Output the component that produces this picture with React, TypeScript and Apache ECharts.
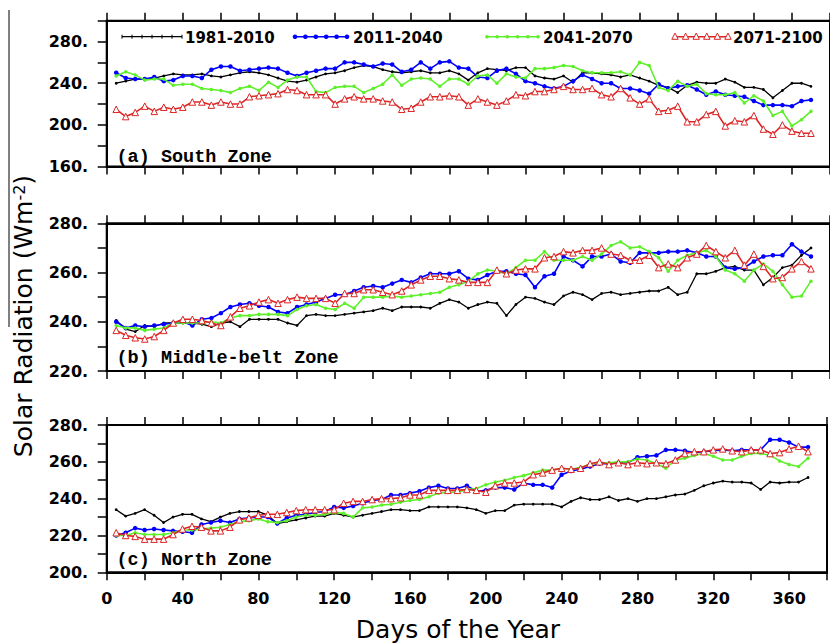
import React, { useEffect, useRef } from 'react';
import * as echarts from 'echarts';

// ---------------- data ----------------
const days = [
  5, 10, 15, 20, 25, 30, 35, 40, 45, 50, 55, 60, 65, 70, 75, 80, 85, 90, 95, 100,
  105, 110, 115, 120, 125, 130, 135, 140, 145, 150, 155, 160, 165, 170, 175, 180, 185, 190, 195, 200,
  205, 210, 215, 220, 225, 230, 235, 240, 245, 250, 255, 260, 265, 270, 275, 280, 285, 290, 295, 300,
  305, 310, 315, 320, 325, 330, 335, 340, 345, 350, 355, 360, 365, 370,
];

const seriesNames = ['1981-2010', '2011-2040', '2041-2070', '2071-2100'];
const panelTitles = ['(a) South Zone', '(b) Middle-belt Zone', '(c) North Zone'];
const xTickLabels = ['0', '40', '80', '120', '160', '200', '240', '280', '320', '360'];
const yTickLabelsA = ['160.', '200.', '240.', '280.'];
const yTickLabelsB = ['220.', '240.', '260.', '280.'];
const yTickLabelsC = ['200.', '220.', '240.', '260.', '280.'];
const xTitle = 'Days of the Year';

// (a) South Zone
const southBlack = [
  240, 242, 244, 244, 245, 247, 249, 248, 248, 249, 247, 246, 248, 250, 251, 250, 248, 245, 242, 241,
  243, 246, 249, 250, 252, 255, 257, 256, 253, 251, 250, 251,
  252, 250, 250, 252, 249, 243, 250, 254, 253, 252, 255, 255, 247, 245, 244, 247, 241, 250, 250, 249,
  248, 246, 248, 245, 242, 238, 236, 231, 238, 241, 240, 240, 244, 241, 236, 236, 234, 226, 233, 240,
  240, 237,
];
const southBlue = [
  250, 245, 244, 244, 246, 242, 243, 247, 247, 245, 253, 256, 256, 252, 253, 254, 255, 254, 250, 247,
  250, 252, 254, 254, 260, 260, 258, 256, 259, 258, 251, 253,
  260, 254, 260, 261, 255, 254, 246, 245, 252, 254, 249, 242, 240, 237, 235, 237, 242, 248, 244, 240,
  240, 235, 235, 233, 230, 239, 235, 237, 238, 234, 229, 232, 229, 228, 227, 223, 219, 219, 219, 218,
  223, 224,
];
const southGreen = [
  247, 251, 248, 243, 244, 244, 238, 239, 239, 235, 234, 233, 231, 235, 237, 233, 241, 236, 243, 246,
  246, 232, 231, 236, 237, 237, 231, 235, 239, 248, 238, 244,
  245, 244, 237, 244, 244, 239, 247, 248, 240, 249, 246, 245, 254, 254, 255, 257, 256, 252, 250, 250,
  250, 251, 248, 260, 257, 236, 233, 242, 237, 239, 230, 229, 229, 231, 221, 228, 223, 209, 213, 199,
  205, 213,
];
const southRed = [
  215, 208, 212, 218, 213, 217, 215, 217, 222, 222, 219, 222, 220, 220, 227, 228, 229, 230, 234, 233,
  229, 229, 229, 220, 225, 227, 225, 225, 223, 222, 215, 216,
  222, 227, 227, 228, 227, 219, 225, 222, 219, 223, 229, 228, 232, 232, 234, 237, 234, 234, 235, 229,
  227, 235, 226, 220, 225, 213, 214, 218, 203, 203, 210, 213, 199, 204, 203, 209, 196, 191, 200, 194,
  192, 192,
];

// (b) Middle-belt Zone
const midBlack = [
  240.5, 237, 236, 238.5, 238, 239.5, 239.5, 239.5, 239.5, 239, 238, 239.5, 240, 238, 241, 241, 241, 241, 239.5, 238.5,
  242.5, 243, 242.5, 242.5, 243, 243.5, 244, 244.5, 245.5, 244.5, 246, 246,
  246, 245.5, 247.5, 249, 248, 245.5, 247, 248, 247.5, 242.5, 247, 250, 249.5, 248, 247, 250.5, 252, 251, 249, 251.5,
  252, 251, 251.5, 252, 252.5, 252.5, 254, 251, 252, 259.5, 259.5, 260.5, 262, 262.5, 261, 261, 255, 258, 262, 263,
  267, 270,
];
const midBlue = [
  240, 237.5, 238.5, 238, 238.5, 239, 239.5, 240, 238.5, 241, 241.5, 243.5, 246, 247, 247.5, 246.5, 246, 244, 243.5, 246,
  247, 248, 249.5, 251, 251, 252.5, 254, 254.5, 254, 255.5, 257, 256,
  258, 259.5, 259.5, 259.5, 260.5, 257.5, 257, 259, 260.5, 260.5, 259.5, 259, 254, 258.5, 259.5, 266.5, 265, 262.5, 266.5, 266.5,
  267.5, 264.5, 264, 268, 268, 268, 268.5, 268.5, 269, 268, 266.5, 266.5, 262, 261.5, 262, 264.5, 266.5, 267, 267, 271.5,
  268.5, 266.5,
];
const midGreen = [
  238.5, 237.5, 237.5, 236.5, 237, 237.5, 239.5, 239.5, 239.5, 239.5, 240, 239.5, 241.5, 242.5, 242.5, 243, 243, 243, 242.5, 245,
  246.5, 247, 245.5, 245, 247.5, 245.5, 250, 250, 250, 250.5, 250, 250.5,
  251, 251.5, 252, 254, 255, 256.5, 259.5, 261, 260.5, 259.5, 262, 265, 265, 268.5, 265, 265, 265, 266.5, 265, 267.5,
  271, 272.5, 270, 270.5, 268.5, 266, 260.5, 265, 267, 268, 269, 266.5, 261, 259.5, 256.5, 261, 263.5, 260.5, 255, 250,
  250.5, 256.5,
];
const midRed = [
  236.5, 234.5, 233.5, 233, 234, 236.5, 239.5, 241, 241, 240.5, 239.5, 238.5, 242, 245.5, 246.5, 248, 249, 247.5, 249, 250,
  249.5, 249.5, 249.5, 247.5, 251.5, 251.5, 253, 253, 252, 251, 252.5, 255,
  257, 258.5, 258.5, 257.5, 257, 256, 256, 256, 261, 259.5, 261, 261.5, 261.5, 266, 266.5, 268.5, 268, 269, 269, 270,
  267.5, 267, 265, 265, 267, 262, 263.5, 262, 266, 267.5, 271, 268.5, 266, 269, 263, 267.5, 262.5, 257.5, 258, 261.5,
  264.5, 261.5,
];

// (c) North Zone
const northBlack = [
  234, 230.5, 232, 234, 231, 227, 230, 231.5, 231.5, 229, 227.5, 230, 232, 233, 233, 233, 231, 226.5, 227.5, 228.5,
  229.5, 230.5, 230.5, 232, 231, 230, 231, 232, 233, 234, 234, 233.5,
  233.5, 235.5, 235.5, 235.5, 235.5, 235, 234, 232, 233.5, 233.5, 236.5, 237, 237, 237, 237, 235.5, 238.5, 240.5, 239.5, 239.5,
  241, 239, 240, 238.5, 240, 240, 241, 242, 242.5, 244.5, 247, 248.5, 249.5, 249, 249, 248.5, 245, 249, 248.5, 249,
  249, 251.5,
];
const northBlue = [
  220, 221.5, 224, 223, 223.5, 223, 222.5, 222, 221.5, 226, 227, 228, 227, 229, 229.5, 230, 230, 226.5, 229.5, 231,
  231.5, 232.5, 233, 235.5, 235, 236, 237.5, 239, 239.5, 242, 242, 243,
  244, 246, 247, 245.5, 245.5, 247, 244, 244.5, 246, 246, 245, 248.5, 247.5, 247.5, 246, 253, 255, 256, 257.5, 259,
  259, 259.5, 259.5, 262.5, 263, 263.5, 266.5, 266.5, 266, 265, 265.5, 266, 266.5, 266, 266.5, 266.5, 266.5, 272, 272, 270.5,
  268, 268,
];
const northGreen = [
  220, 220, 221.5, 220.5, 220.5, 220.5, 221.5, 223, 223, 223.5, 224, 224.5, 226, 227.5, 228, 229, 227.5, 227, 228, 230,
  231, 231, 231.5, 232.5, 232, 230, 235, 235.5, 236.5, 237, 238, 239,
  239.5, 241, 243, 243.5, 243.5, 245, 245.5, 247.5, 249, 250, 251.5, 252.5, 254, 255.5, 255.5, 256.5, 256, 257, 258.5, 259.5,
  259.5, 260, 260, 261.5, 261, 259, 256.5, 261, 262, 263.5, 264.5, 263, 261, 261, 263, 264.5, 264.5, 263.5, 260.5, 258.5,
  257.5, 262,
];
const northRed = [
  221.5, 220, 219.5, 218, 218, 218, 220.5, 223.5, 225, 224.5, 222.5, 222.5, 224.5, 228.5, 229.5, 231, 231.5, 231.5, 232.5, 233.5,
  234, 234, 234, 234, 237.5, 238.5, 238.5, 239.5, 240, 240, 240.5, 242,
  242, 244.5, 244.5, 244.5, 244.5, 245, 244.5, 243.5, 247, 248.5, 248.5, 249, 253, 254, 255.5, 256.5, 256, 256.5, 259, 260,
  258.5, 259.5, 258.5, 259.5, 259, 259.5, 259, 261, 264.5, 265.5, 265.5, 266.5, 267, 266, 265.5, 266.5, 266.5, 264.5, 265, 267,
  268.5, 265.5,
];

// ---------------- styles ----------------
const BLACK = '#000000';
const BLUE = '#0000ff';
const GREEN = '#5ef02a';
const RED = '#dc2626';
const TICK_FONT = 'DejaVu Sans';

const seriesStyles = [
  { color: BLACK, symbol: 'circle', size: 2.8, fill: BLACK, lw: 1.3, bw: 0 },
  { color: BLUE, symbol: 'circle', size: 4.5, fill: BLUE, lw: 1.6, bw: 0 },
  { color: GREEN, symbol: 'circle', size: 3.5, fill: GREEN, lw: 1.6, bw: 0 },
  { color: RED, symbol: 'triangle', size: 6.5, fill: '#ffffff', lw: 1.6, bw: 1 },
];

const panels = [
  { data: [southBlack, southBlue, southGreen, southRed], min: 160, max: 300, interval: 20, labels: yTickLabelsA, top: 20.7, height: 145.9 },
  { data: [midBlack, midBlue, midGreen, midRed], min: 220, max: 280, interval: 10, labels: yTickLabelsB, top: 223.3, height: 147.7 },
  { data: [northBlack, northBlue, northGreen, northRed], min: 200, max: 280, interval: 10, labels: yTickLabelsC, top: 425, height: 147.3 },
];
const titleY = [157.4, 358.4, 560.8];

const GRID_LEFT = 106.7;
const GRID_WIDTH = 724.8;
const X_MAX = 380;

function buildLegend(): any[] {
  const els: any[] = [];
  const y = 36.7;
  const items = [
    { x1: 122, x2: 182, tx: 185 },
    { x1: 295, x2: 347, tx: 353 },
    { x1: 487, x2: 538, tx: 543 },
    { x1: 675, x2: 728, tx: 733 },
  ];
  items.forEach((it, k) => {
    const st = seriesStyles[k];
    els.push({
      type: 'line',
      shape: { x1: it.x1, y1: y, x2: it.x2, y2: y },
      style: { stroke: st.color, lineWidth: st.lw },
    });
    const n = k === 0 ? 7 : 6;
    for (let j = 0; j < n; j++) {
      const cx = it.x1 + ((it.x2 - it.x1) * j) / (n - 1);
      if (k === 0) {
        els.push({ type: 'line', shape: { x1: cx, y1: y - 2, x2: cx, y2: y + 2 }, style: { stroke: BLACK, lineWidth: 1 } });
      } else if (k === 3) {
        els.push({
          type: 'polygon',
          shape: { points: [[cx, y - 3.6], [cx - 3.2, y + 2.6], [cx + 3.2, y + 2.6]] },
          style: { fill: '#ffffff', stroke: RED, lineWidth: 1 },
        });
      } else {
        els.push({ type: 'circle', shape: { cx, cy: y, r: k === 1 ? 2.3 : 1.8 }, style: { fill: st.color } });
      }
    }
    els.push({
      type: 'text',
      x: it.tx,
      y: 38,
      style: {
        text: seriesNames[k],
        fill: '#000',
        fontSize: 15,
        fontFamily: TICK_FONT,
        fontWeight: 'bold',
        align: 'left',
        verticalAlign: 'middle',
      },
    });
  });
  return els;
}

function buildOption(): any {
  const grid = panels.map((p) => ({
    left: GRID_LEFT,
    width: GRID_WIDTH,
    top: p.top,
    height: p.height,
    show: true,
    borderColor: '#000',
    borderWidth: 2,
    backgroundColor: 'transparent',
  }));

  const xAxis: any[] = [];
  panels.forEach((_, i) => {
    const base = {
      type: 'value',
      gridIndex: i,
      min: 0,
      max: X_MAX,
      interval: 20,
      axisLine: { show: true, onZero: false, lineStyle: { color: '#000', width: 2 } },
      axisTick: { show: true, inside: false, length: 8, lineStyle: { color: '#000', width: 1.5 } },
      splitLine: { show: false },
    };
    xAxis.push({
      ...base,
      position: 'bottom',
      axisLabel: {
        show: i === 2,
        margin: 18,
        color: '#000',
        fontSize: 16,
        fontFamily: TICK_FONT,
        fontWeight: 'bold',
        formatter: (v: number) => (xTickLabels.includes(String(v)) ? String(v) : ''),
      },
    });
    xAxis.push({ ...base, position: 'top', axisLabel: { show: false } });
  });

  const yAxis = panels.map((p, i) => ({
    type: 'value',
    gridIndex: i,
    position: 'left',
    min: p.min,
    max: p.max,
    interval: p.interval,
    axisLine: { show: true, onZero: false, lineStyle: { color: '#000', width: 2 } },
    axisTick: { show: true, inside: false, length: 9, lineStyle: { color: '#000', width: 1.5 } },
    splitLine: { show: false },
    axisLabel: {
      margin: 18.5,
      color: '#000',
      fontSize: 16,
      fontFamily: TICK_FONT,
      fontWeight: 'bold',
      formatter: (v: number) => (p.labels.includes(`${v}.`) ? `${v}.` : ''),
    },
  }));

  const series: any[] = [];
  panels.forEach((p, i) => {
    p.data.forEach((arr, k) => {
      const st = seriesStyles[k];
      series.push({
        type: 'line',
        name: seriesNames[k],
        xAxisIndex: 2 * i,
        yAxisIndex: i,
        data: days.map((d, j) => [d, arr[j]]),
        symbol: st.symbol,
        symbolSize: st.size,
        showSymbol: true,
        lineStyle: { color: st.color, width: st.lw },
        itemStyle: { color: st.fill, borderColor: st.color, borderWidth: st.bw },
        emphasis: { disabled: true },
        silent: true,
        clip: true,
        z: 2 + k,
      });
    });
  });

  const graphic: any[] = [
    ...buildLegend(),
    ...panelTitles.map((t, i) => ({
      type: 'text',
      x: 116.5,
      y: titleY[i],
      style: {
        text: t,
        fill: '#000',
        fontSize: 18.5,
        fontFamily: 'Liberation Mono',
        fontWeight: 'bold',
        align: 'left',
        verticalAlign: 'middle',
      },
    })),
    {
      type: 'text',
      x: 458,
      y: 629.5,
      style: {
        text: xTitle,
        fill: '#000',
        fontSize: 25,
        fontFamily: 'DejaVu Sans',
        align: 'center',
        verticalAlign: 'middle',
      },
    },
    {
      type: 'text',
      x: 23.7,
      y: 316,
      rotation: Math.PI / 2,
      style: {
        text: 'Solar Radiation (Wm{sup|-2})',
        fill: '#000',
        fontSize: 25,
        fontFamily: 'DejaVu Sans',
        align: 'center',
        verticalAlign: 'middle',
        rich: {
          sup: { fontSize: 16, fontFamily: 'DejaVu Sans', verticalAlign: 'top', fill: '#000' },
        },
      },
    },
    {
      type: 'line',
      shape: { x1: 9, y1: 10, x2: 9, y2: 327 },
      style: { stroke: '#000', lineWidth: 1 },
    },
  ];

  return {
    animation: false,
    backgroundColor: '#ffffff',
    grid,
    xAxis,
    yAxis,
    series,
    graphic,
  };
}

export default function App() {
  const ref = useRef<HTMLDivElement>(null);
  useEffect(() => {
    if (!ref.current) return;
    const chart = echarts.init(ref.current, undefined, { renderer: 'svg' });
    chart.setOption(buildOption());
    return () => chart.dispose();
  }, []);
  return (
    <div
      ref={ref}
      style={{ position: 'absolute', left: 0, top: 0, width: 830, height: 643, background: '#fff' }}
    />
  );
}
